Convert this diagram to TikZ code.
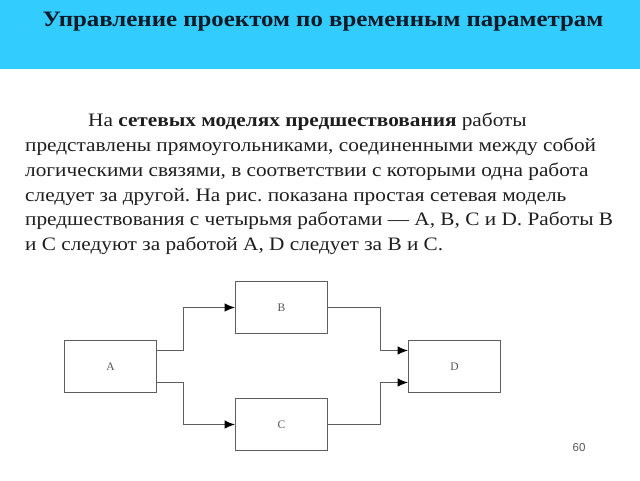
\documentclass[tikz,border=0pt]{standalone}
\usepackage{fontspec}
\setmainfont{Liberation Serif}
\newfontfamily\bodyfont[FakeStretch=1.12]{Liberation Serif}
\newfontfamily\titlefont[FakeStretch=1.13]{Liberation Serif}
\newfontfamily\numfont{Liberation Sans}
\usetikzlibrary{arrows.meta}
\definecolor{banner}{HTML}{33CCFF}
\definecolor{titlecol}{HTML}{0E1A26}
\definecolor{bodycol}{HTML}{1E1E1E}
\definecolor{linecol}{HTML}{5E5E5E}
\definecolor{labelcol}{HTML}{555555}
\tikzset{
  bodyline/.style={anchor=base west, inner sep=0pt, text=bodycol, font=\bodyfont\frenchspacing\fontsize{19}{25}\selectfont},
  task/.style={draw=linecol, line width=1pt, minimum width=92pt, minimum height=52pt, inner sep=0pt, text=labelcol, font=\fontsize{11.5}{13}\selectfont},
  link/.style={draw=linecol, line width=1pt, -{Latex[length=10.5pt,width=8.5pt,color=black]}}
}
\begin{document}
\begin{tikzpicture}[x=1pt,y=-1pt]
\useasboundingbox (0,0) rectangle (640,480);
\fill[banner] (0,0) rectangle (640,69);
\node[anchor=base, inner sep=0pt, text=titlecol, font=\titlefont\bfseries\fontsize{22}{26}\selectfont] (title) at (323,26) {Управление проектом по временным параметрам};

\node[bodyline] (l1) at (88,126.7) {На \textbf{сетевых моделях предшествования} работы};
\node[bodyline] (l2) at (25,151.7) {представлены прямоугольниками, соединенными между собой};
\node[bodyline] (l3) at (25,176.4) {логическими связями, в соответствии с которыми одна работа};
\node[bodyline] (l4) at (25,201.1) {следует за другой. На рис. показана простая сетевая модель};
\node[bodyline] (l5) at (25,225.8) {предшествования с четырьмя работами — A, B, C и D. Работы B};
\node[bodyline] (l6) at (25,250.5) {и C следуют за работой A, D следует за B и C.};

\node[task] (A) at (110.5,366.5) {A};
\node[task] (B) at (281.5,307.5) {B};
\node[task] (C) at (281.5,424.5) {C};
\node[task] (D) at (454.5,366.5) {D};

\draw[link] ([yshift=16pt]A.east) -| (183.5,307.5) -- (B.west);
\draw[link] ([yshift=-16pt]A.east) -| (183.5,424.5) -- (C.west);
\draw[link] (B.east) -| (380.5,350.5) -- ([yshift=16pt]D.west);
\draw[link] (C.east) -| (380.5,382.5) -- ([yshift=-16pt]D.west);

\node[anchor=base, inner sep=0pt, text=labelcol, font=\numfont\fontsize{11.5}{13}\selectfont] (pagenum) at (579,451) {60};
\end{tikzpicture}
\end{document}
